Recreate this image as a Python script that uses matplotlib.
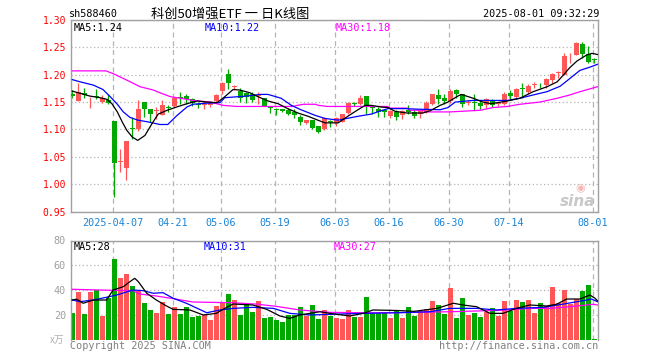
import matplotlib
matplotlib.use("Agg")
import matplotlib.pyplot as plt
import numpy as np

# ---- data (one candle per trading day) ----
opens = [1.164, 1.152, 1.166, 1.153, 1.161, 1.150, 1.153, 1.116, 1.040, 1.030,
         1.103, 1.100, 1.150, 1.138, 1.134, 1.127, 1.140, 1.143, 1.160, 1.161,
         1.155, 1.147, 1.145, 1.145, 1.152, 1.170, 1.201, 1.177, 1.170, 1.166,
         1.164, 1.161, 1.158, 1.142, 1.138, 1.137, 1.136, 1.132, 1.123, 1.111,
         1.118, 1.106, 1.100, 1.116, 1.111, 1.114, 1.130, 1.149, 1.146, 1.161,
         1.142, 1.138, 1.135, 1.125, 1.132, 1.126, 1.136, 1.132, 1.129, 1.132,
         1.147, 1.163, 1.157, 1.152, 1.172, 1.164, 1.148, 1.150, 1.149, 1.144,
         1.152, 1.146, 1.147, 1.167, 1.159, 1.176, 1.168, 1.181, 1.185, 1.181,
         1.190, 1.203, 1.200, 1.237, 1.236, 1.257, 1.238, 1.228]
highs = [1.172, 1.185, 1.175, 1.160, 1.173, 1.163, 1.164, 1.116, 1.064, 1.078,
         1.123, 1.153, 1.150, 1.138, 1.141, 1.153, 1.144, 1.160, 1.169, 1.164,
         1.158, 1.150, 1.152, 1.152, 1.165, 1.186, 1.211, 1.182, 1.175, 1.169,
         1.168, 1.168, 1.158, 1.142, 1.139, 1.137, 1.139, 1.137, 1.126, 1.118,
         1.118, 1.107, 1.122, 1.118, 1.122, 1.128, 1.150, 1.150, 1.163, 1.161,
         1.142, 1.141, 1.136, 1.136, 1.135, 1.135, 1.144, 1.135, 1.136, 1.152,
         1.165, 1.173, 1.165, 1.173, 1.173, 1.165, 1.153, 1.164, 1.152, 1.158,
         1.155, 1.149, 1.168, 1.172, 1.176, 1.184, 1.183, 1.187, 1.185, 1.194,
         1.203, 1.207, 1.239, 1.239, 1.259, 1.259, 1.252, 1.230]
lows = [1.157, 1.152, 1.158, 1.139, 1.155, 1.149, 1.146, 0.976, 1.022, 1.008,
        1.083, 1.097, 1.123, 1.114, 1.119, 1.127, 1.132, 1.141, 1.147, 1.146,
        1.142, 1.139, 1.138, 1.141, 1.150, 1.164, 1.173, 1.172, 1.150, 1.149,
        1.150, 1.147, 1.142, 1.130, 1.126, 1.132, 1.126, 1.120, 1.109, 1.110,
        1.100, 1.094, 1.099, 1.105, 1.107, 1.114, 1.128, 1.142, 1.144, 1.129,
        1.129, 1.123, 1.122, 1.120, 1.118, 1.119, 1.129, 1.120, 1.121, 1.130,
        1.145, 1.147, 1.146, 1.149, 1.158, 1.141, 1.145, 1.136, 1.138, 1.139,
        1.141, 1.142, 1.145, 1.155, 1.157, 1.157, 1.165, 1.175, 1.176, 1.176,
        1.185, 1.194, 1.199, 1.221, 1.236, 1.230, 1.221, 1.221]
closes = [1.162, 1.169, 1.163, 1.154, 1.160, 1.158, 1.149, 1.039, 1.042, 1.078,
          1.101, 1.138, 1.138, 1.129, 1.135, 1.144, 1.139, 1.158, 1.157, 1.155,
          1.148, 1.145, 1.147, 1.149, 1.163, 1.185, 1.184, 1.179, 1.158, 1.160,
          1.153, 1.163, 1.143, 1.139, 1.135, 1.133, 1.129, 1.126, 1.113, 1.117,
          1.102, 1.096, 1.120, 1.114, 1.120, 1.128, 1.149, 1.146, 1.158, 1.141,
          1.140, 1.132, 1.132, 1.133, 1.123, 1.133, 1.131, 1.125, 1.134, 1.149,
          1.164, 1.155, 1.152, 1.170, 1.164, 1.147, 1.150, 1.148, 1.142, 1.155,
          1.144, 1.148, 1.164, 1.161, 1.173, 1.174, 1.180, 1.183, 1.184, 1.192,
          1.202, 1.205, 1.235, 1.238, 1.258, 1.238, 1.224, 1.227]
volumes = [21.6, 38.7, 21, 38.7, 40.3, 19.5, 33.7, 65.2, 49.9, 53.1,
           43.5, 39.8, 29.9, 24.3, 21.9, 30.7, 21, 26.7, 21, 26.7,
           18.7, 19.5, 20.3, 16.5, 27.5, 29.9, 37.1, 32.6, 20.3, 29.4,
           22.7, 31.5, 17.9, 18.7, 16.3, 14.7, 20.3, 20.3, 26.7, 19.5,
           28.3, 17.1, 24.3, 19.5, 18, 17.1, 24.3, 19, 19, 34.7,
           21.6, 21.6, 21.6, 18, 24.3, 18, 26.7, 19.5, 23.5, 25.1,
           31.5, 28.3, 21, 41.9, 18, 33.9, 20.3, 21.9, 18.7, 22.7,
           26, 19.5, 31.5, 23.5, 32.3, 30.7, 32.3, 21.9, 29.9, 27.5,
           42.7, 29.9, 40.3, 29.1, 33.1, 39.5, 44.3, 1.0]

# moving-average lines (candle position, value)
ma5_x = [0, 1.3, 2.9, 4.6, 5.8, 6.6, 7.5, 8.3, 9.1, 10, 10.9, 12.1, 13.3, 14.3, 15.8,
         17.4, 19.1, 20.8, 22.4, 24.1, 25.1, 26.8, 27.9, 29.6, 30.5, 32.6, 34.3, 35.9,
         37.6, 39.3, 40.9, 42.1, 44.3, 45.9, 47.6, 48.8, 49.8, 51.4, 52.6, 53.8, 55.8,
         58.4, 59.6, 61.3, 62.6, 64.1, 64.8, 66.8, 68.4, 69.8, 72.5, 74.6, 76.8, 79.1,
         80.8, 81.8, 82.9, 84.1, 85.7, 86.6, 87.5]
ma5_y = [1.170, 1.166, 1.161, 1.158, 1.155, 1.147, 1.132, 1.114, 1.098, 1.086, 1.080,
         1.089, 1.111, 1.128, 1.135, 1.141, 1.147, 1.152, 1.150, 1.149, 1.157, 1.173,
         1.172, 1.167, 1.162, 1.152, 1.147, 1.138, 1.130, 1.124, 1.117, 1.112, 1.112,
         1.124, 1.136, 1.144, 1.144, 1.141, 1.140, 1.133, 1.130, 1.130, 1.134, 1.144,
         1.150, 1.160, 1.164, 1.157, 1.150, 1.147, 1.152, 1.157, 1.169, 1.178, 1.187,
         1.199, 1.213, 1.225, 1.236, 1.239, 1.237]
ma10_x = [0, 1.3, 3.5, 5.1, 6.3, 7.5, 8.5, 9.6, 10.9, 12.5, 14.6, 15.9, 17.4, 19.1,
          20.1, 22.4, 24.6, 25.4, 29.1, 31.3, 32.6, 34.8, 36.5, 38.1, 40.4, 42.1, 44.3,
          47.6, 49.8, 51.4, 52.6, 55.4, 57.6, 61.3, 62.6, 63.8, 66.8, 72.5, 74.6, 76.8,
          79.1, 81.3, 82.9, 84.6, 86.3, 87.5]
ma10_y = [1.191, 1.187, 1.181, 1.173, 1.160, 1.146, 1.132, 1.122, 1.117, 1.114, 1.109,
          1.109, 1.125, 1.141, 1.146, 1.148, 1.149, 1.158, 1.161, 1.164, 1.164, 1.157,
          1.144, 1.136, 1.126, 1.120, 1.117, 1.124, 1.128, 1.134, 1.138, 1.138, 1.137,
          1.136, 1.140, 1.150, 1.153, 1.153, 1.157, 1.163, 1.169, 1.179, 1.193, 1.208,
          1.214, 1.219]
ma30_x = [0, 5.6, 6.8, 9.1, 11.3, 13.5, 14.6, 16.3, 18, 20.1, 23, 25.1, 27.4, 36.8,
          37.5, 38.5, 40.5, 41, 42.5, 52.5, 53, 55.8, 56.3, 58.4, 59, 62.9, 64.6, 68,
          70.1, 72.5, 74.6, 77.9, 80.8, 82.9, 84.6, 87.5]
ma30_y = [1.207, 1.207, 1.202, 1.190, 1.178, 1.172, 1.167, 1.160, 1.157, 1.153, 1.150,
          1.144, 1.142, 1.142, 1.144, 1.146, 1.146, 1.144, 1.142, 1.142, 1.139, 1.139,
          1.135, 1.135, 1.132, 1.132, 1.133, 1.135, 1.140, 1.142, 1.146, 1.150, 1.157,
          1.163, 1.169, 1.178]

vma5_x = [0, 0.7, 1.8, 3.5, 5.7, 6.8, 8.5, 9.6, 10.4, 11, 12.4, 14, 15.7, 16.8, 19.6,
          21.8, 24, 25.1, 26.8, 30.1, 32.4, 34.6, 36.25, 37.9, 39.6, 41.25, 42.9, 46.25,
          48.5, 50.1, 54.1, 56.9, 60.8, 63.5, 65.1, 67.4, 69.6, 71.8, 74, 76.25, 79,
          80.7, 82.4, 84.6, 86.25, 87.1, 87.5]
vma5_y = [32.3, 33, 29.7, 32.3, 32.3, 40.3, 43, 47, 49.7, 47, 37.7, 32.3, 27.5, 24.8,
          24.3, 20.3, 21.6, 24.8, 29.1, 28.3, 24.8, 19.5, 17.6, 20.3, 21.6, 22.9, 21.6,
          19.5, 21.6, 24.3, 23.9, 23.2, 25.6, 29.7, 28.3, 26.9, 21.6, 21.6, 25.6, 28.3,
          27.5, 28.9, 33.1, 33.1, 36.3, 33.7, 31.7]
vma10_x = [0, 1.25, 3.5, 5.7, 7.4, 10.1, 11.8, 13.5, 15.1, 16.8, 19, 22.4, 24.6, 26.8,
           30.1, 33.5, 36.25, 39.6, 42.9, 48.5, 54.1, 59.6, 62.9, 67.4, 70.7, 74, 78.5,
           81.9, 85.7, 86.5, 87.5]
vma10_y = [32.3, 31, 32.3, 34.5, 36.3, 40.3, 39.8, 37.7, 38.2, 33.7, 29.7, 22.1, 24.3,
           25.6, 26.4, 25.6, 21.6, 20.3, 20.8, 21.6, 22.1, 22.9, 25.6, 25.6, 24.3, 25.6,
           26.4, 29.1, 32.3, 33.1, 31]
vma30_x = [0, 4.6, 10.1, 11.25, 14, 16.8, 20.1, 26.8, 30.7, 34, 37.9, 42.9, 48.5, 54.1,
           62.9, 67.4, 72.4, 76.25, 79.6, 82.9, 86.8, 87.5]
vma30_y = [40.9, 40.3, 39.8, 37.1, 35.5, 33.4, 30.7, 30.1, 29, 27.2, 24.3, 22.4, 22.1,
           22.1, 22.9, 23.5, 24.3, 25.6, 25.6, 26.9, 28.9, 28.3]

date_pos = [7, 17, 25, 34, 44, 53, 63, 73, 87]
date_labels = ['2025-04-07', '04-21', '05-06', '05-19', '06-03',
               '06-16', '06-30', '07-14', '08-01']
price_ticks = [0.95, 1.00, 1.05, 1.10, 1.15, 1.20, 1.25, 1.30]
vol_ticks = [20, 40, 60, 80]

RED = '#ff5757'
GREEN = '#00a800'
FRAME = '#a0a0a0'
GRID = '#b4b4b4'
MONO = 'DejaVu Sans Mono'
CJK = ['Noto Sans CJK SC', 'DejaVu Sans']

W, H = 660, 360


def px(x, y):
    return x / W, 1 - y / H


fig = plt.figure(figsize=(6.6, 3.6), dpi=100)
left, right = 70.7, 598
ax = fig.add_axes([left / W, 1 - 211.5 / H, (right - left) / W, 191.5 / H])
axv = fig.add_axes([left / W, 1 - 340.3 / H, (right - left) / W, 99.8 / H])

idx = np.arange(len(closes))
o = np.array(opens)
c = np.array(closes)
up = c >= o
colors = np.where(up, RED, GREEN)

for a in (ax, axv):
    a.set_xlim(-0.27, 87.6)
    for s in a.spines.values():
        s.set_color(FRAME)
        s.set_linewidth(1)
    a.set_xticks([p - 0.27 for p in date_pos])
    a.grid(axis='x', color=GRID, linestyle=(0, (4, 3)), linewidth=0.9)
    a.grid(axis='y', color=GRID, linestyle=(0, (1, 2)), linewidth=0.9)
    a.set_axisbelow(True)
    a.tick_params(length=0)

# price panel
ax.vlines(idx, lows, highs, colors=colors, linewidth=0.9, zorder=2)
body_h = np.maximum(np.abs(c - o), 0.0012)
ax.bar(idx, body_h, bottom=np.minimum(o, c), width=0.83, color=colors,
       linewidth=0, zorder=3)
ax.plot(ma30_x, ma30_y, color='#ff00ff', linewidth=0.9, zorder=4)
ax.plot(ma10_x, ma10_y, color='#0000ff', linewidth=0.9, zorder=4)
ax.plot(ma5_x, ma5_y, color='black', linewidth=0.9, zorder=4)
ax.set_ylim(0.95, 1.30)
ax.set_yticks(price_ticks)
ax.set_yticklabels([f'{t:.2f}' for t in price_ticks], color='#ff0000',
                   fontfamily=MONO, fontsize=7)
ax.tick_params(axis='y', pad=3.4)
ax.set_xticklabels(date_labels, color='#1a84d6', fontfamily=MONO, fontsize=7.3)
ax.tick_params(axis='x', pad=4.5)

# volume panel
axv.bar(idx, volumes, width=0.83, color=colors, linewidth=0, zorder=2)
axv.plot(vma30_x, vma30_y, color='#ff00ff', linewidth=0.9, zorder=4)
axv.plot(vma10_x, vma10_y, color='#0000ff', linewidth=0.9, zorder=4)
axv.plot(vma5_x, vma5_y, color='black', linewidth=0.9, zorder=4)
axv.set_ylim(0, 80)
axv.set_yticks(vol_ticks)
axv.set_yticklabels([str(t) for t in vol_ticks], color='#a0a0a0',
                    fontfamily=MONO, fontsize=7.3)
axv.tick_params(axis='y', pad=3.4)
axv.set_xticklabels([])
axv.spines['bottom'].set_visible(False)

# header texts
fig.text(*px(69, 14), 'sh588460', fontfamily=MONO, fontsize=7.3, va='center')
fig.text(*px(230, 14), '科创50增强ETF 一 日K线图', family=CJK, fontsize=9.5,
         ha='center', va='center')
fig.text(*px(599, 14), '2025-08-01 09:32:29', fontfamily=MONO, fontsize=7.3,
         ha='right', va='center')

# MA legends
fig.text(*px(74, 28), 'MA5:1.24', fontfamily=MONO, fontsize=7.3, va='center')
fig.text(*px(205, 28), 'MA10:1.22', fontfamily=MONO, fontsize=7.3, va='center',
         color='#0000ff')
fig.text(*px(336, 28), 'MA30:1.18', fontfamily=MONO, fontsize=7.3, va='center',
         color='#ff00ff')
fig.text(*px(74, 247), 'MA5:28', fontfamily=MONO, fontsize=7.3, va='center')
fig.text(*px(204, 247), 'MA10:31', fontfamily=MONO, fontsize=7.3, va='center',
         color='#0000ff')
fig.text(*px(334, 247), 'MA30:27', fontfamily=MONO, fontsize=7.3, va='center',
         color='#ff00ff')

# footer and unit
fig.text(*px(64, 340), 'x万', family=CJK, fontsize=7, ha='right', va='center',
         color='#b0b0b0')
fig.text(*px(70, 346), 'Copyright 2025 SINA.COM', fontfamily=MONO, fontsize=7.3,
         va='center', color='#808080')
fig.text(*px(598, 346), 'http://finance.sina.com.cn', fontfamily=MONO,
         fontsize=7.3, ha='right', va='center', color='#808080')

# sina watermark
fig.text(*px(578, 201), 'sina', fontsize=11, fontweight='bold', style='italic',
         ha='center', va='center', color='#c8c8c8')
fig.text(*px(580, 188), '◉', fontsize=8, ha='center', va='center',
         color='#f4b8b8', family=['DejaVu Sans'])

fig.savefig('out.png', dpi=100)
